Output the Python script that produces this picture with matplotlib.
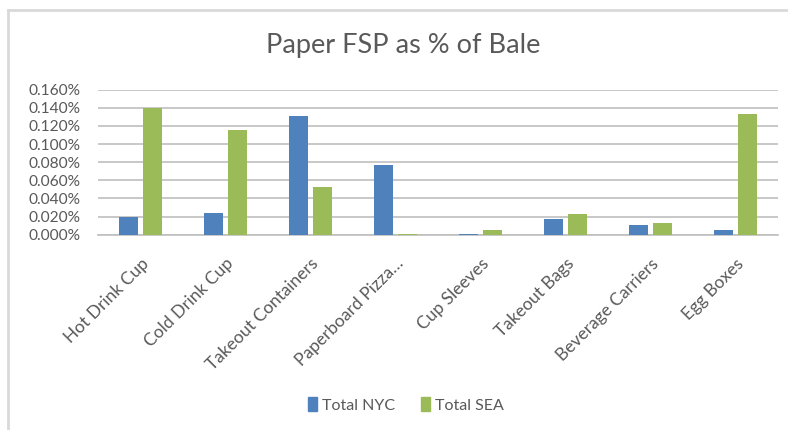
import matplotlib
matplotlib.use("Agg")
import matplotlib.pyplot as plt
import numpy as np
from matplotlib.ticker import FuncFormatter
from matplotlib.lines import Line2D

categories = ["Hot Drink Cup", "Cold Drink Cup", "Takeout Containers", "Paperboard Pizza…",
              "Cup Sleeves", "Takeout Bags", "Beverage Carriers", "Egg Boxes"]
nyc = [0.019, 0.0235, 0.1305, 0.077, 0.001, 0.0178, 0.0107, 0.005]
sea = [0.1395, 0.1155, 0.053, 0.001, 0.005, 0.0225, 0.0129, 0.133]
yticks = [0.0, 0.02, 0.04, 0.06, 0.08, 0.10, 0.12, 0.14, 0.16]

plt.rcParams['font.family'] = ['Lato', 'DejaVu Sans']
txt = '#595959'
blue = '#4f81bd'
green = '#9bbb59'

fig = plt.figure(figsize=(7.88, 4.30), dpi=100)
ax = fig.add_axes([98/788, 1-234.7/430, 680/788, 145/430])

x = np.arange(len(categories))
w = 0.22
ax.bar(x - 0.14, nyc, width=w, color=blue, label="Total NYC", zorder=3)
ax.bar(x + 0.14, sea, width=w, color=green, label="Total SEA", zorder=3)

ax.set_xlim(-0.5, len(categories) - 0.5)
ax.set_ylim(0, 0.16)
ax.set_yticks(yticks)
ax.yaxis.set_major_formatter(FuncFormatter(lambda v, p: f"{v:.3f}%"))
ax.grid(axis='y', color='#bfbfbf', linewidth=1.2, zorder=0)
ax.set_axisbelow(True)
for s in ['top', 'right', 'left']:
    ax.spines[s].set_visible(False)
ax.spines['bottom'].set_color('#bfbfbf')
ax.spines['bottom'].set_linewidth(1.2)
ax.tick_params(axis='both', length=0, colors=txt)
ax.tick_params(axis='y', pad=12.5, labelsize=11.2)
ax.set_xticks(x)
ax.set_xticklabels(categories, rotation=45, ha='right', rotation_mode='anchor', fontsize=12.5, color=txt)
ax.tick_params(axis='x', pad=15)

fig.text(403/788, 1-45/430, "Paper FSP as % of Bale", ha='center', va='center', fontsize=19.5, color=txt)

handles = [plt.Rectangle((0, 0), 1, 1, color=blue), plt.Rectangle((0, 0), 1, 1, color=green)]
fig.legend(handles, ["Total NYC", "Total SEA"], loc='center', bbox_to_anchor=(406/788, 1-405/430),
           ncol=2, frameon=False, fontsize=11.5, labelcolor=txt, handlelength=0.6, handleheight=0.9,
           handletextpad=0.3, columnspacing=1.6)

fig.add_artist(Line2D([8/788, 8/788], [0, 1-10/430], transform=fig.transFigure, color='#d9d9d9', linewidth=2))
fig.add_artist(Line2D([8/788, 1], [1-10/430, 1-10/430], transform=fig.transFigure, color='#d9d9d9', linewidth=2))

fig.savefig("out.png", dpi=100, facecolor='white')
